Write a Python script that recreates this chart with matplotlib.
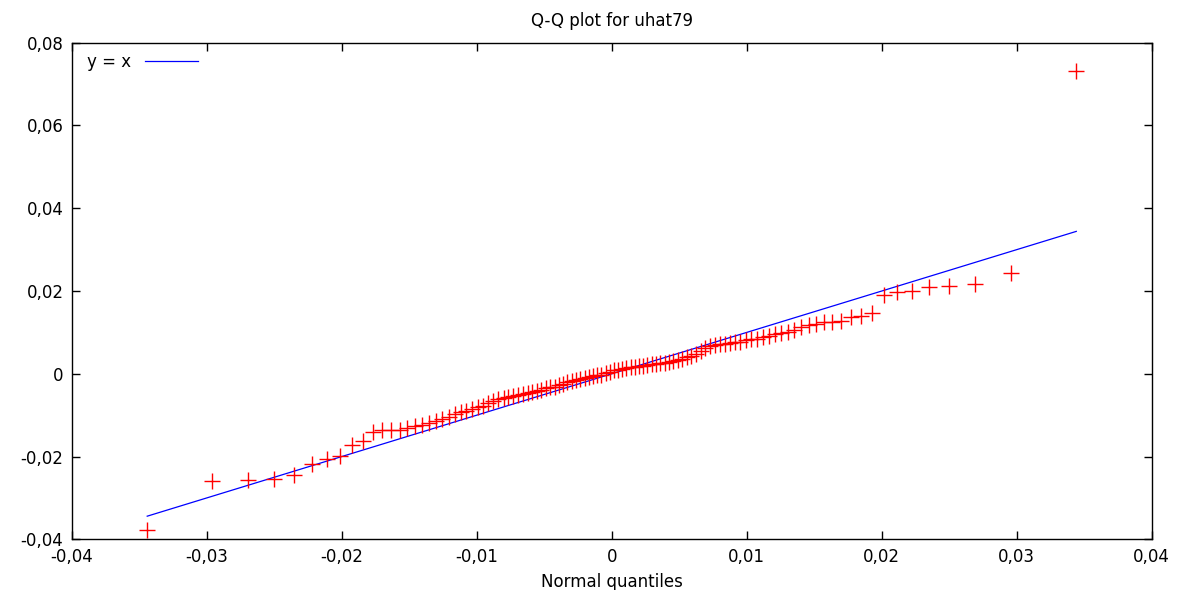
import matplotlib
matplotlib.use("Agg")
import matplotlib.pyplot as plt
from matplotlib.ticker import FuncFormatter, MultipleLocator

# Normal quantiles (x) and sorted residuals (y)
normal_q = [
    -0.03441, -0.02959, -0.02692, -0.02501, -0.02350, -0.02222, -0.02112, -0.02014, -0.01926, -0.01846,
    -0.01769, -0.01700, -0.01635, -0.01572, -0.01514, -0.01458, -0.01404, -0.01352, -0.01302, -0.01254,
    -0.01208, -0.01162, -0.01118, -0.01076, -0.01034, -0.00993, -0.00953, -0.00915, -0.00877, -0.00839,
    -0.00800, -0.00765, -0.00728, -0.00693, -0.00658, -0.00624, -0.00590, -0.00556, -0.00522, -0.00489,
    -0.00457, -0.00424, -0.00391, -0.00360, -0.00328, -0.00296, -0.00264, -0.00232, -0.00201, -0.00170,
    -0.00139, -0.00109, -0.00077, -0.00046, -0.00015,
    0.00015, 0.00046, 0.00077, 0.00109, 0.00139, 0.00170, 0.00201, 0.00232, 0.00264, 0.00296,
    0.00328, 0.00360, 0.00391, 0.00424, 0.00457, 0.00489, 0.00522, 0.00556, 0.00590, 0.00624,
    0.00658, 0.00693, 0.00728, 0.00765, 0.00800, 0.00839, 0.00877, 0.00915, 0.00953, 0.00993,
    0.01034, 0.01076, 0.01118, 0.01162, 0.01208, 0.01254, 0.01302, 0.01352, 0.01404, 0.01458,
    0.01514, 0.01572, 0.01635, 0.01700, 0.01769, 0.01846, 0.01926, 0.02014, 0.02112, 0.02222,
    0.02350, 0.02501, 0.02692, 0.02959, 0.03441,
]
uhat79 = [
    -0.0378, -0.0259, -0.0256, -0.0254, -0.0244, -0.0219, -0.0207, -0.0199, -0.0171, -0.0162,
    -0.0141, -0.0136, -0.0136, -0.0135, -0.0132, -0.0127, -0.0123, -0.0118, -0.0114, -0.0110,
    -0.0104, -0.0097, -0.0093, -0.0089, -0.0085, -0.0081, -0.0077, -0.0071, -0.0066, -0.0062,
    -0.0058, -0.0056, -0.0054, -0.0052, -0.0050, -0.0047, -0.0043, -0.0041, -0.0038, -0.0035,
    -0.0032, -0.0031, -0.0028, -0.0024, -0.0019, -0.0017, -0.0015, -0.0013, -0.0010, -0.0008,
    -0.0006, -0.0004, -0.0002, 0.0001, 0.0005,
    0.0008, 0.0010, 0.0012, 0.0014, 0.0016, 0.0017, 0.0018, 0.0019, 0.0021, 0.0023,
    0.0024, 0.0025, 0.0027, 0.0029, 0.0031, 0.0033, 0.0036, 0.0040, 0.0042, 0.0048,
    0.0054, 0.0062, 0.0068, 0.0070, 0.0071, 0.0072, 0.0074, 0.0076, 0.0078, 0.0081,
    0.0083, 0.0085, 0.0089, 0.0092, 0.0095, 0.0099, 0.0102, 0.0106, 0.0112, 0.0117,
    0.0121, 0.0124, 0.0126, 0.0127, 0.0138, 0.0139, 0.0148, 0.0190, 0.0198, 0.0200,
    0.0210, 0.0213, 0.0218, 0.0244, 0.0732,
]
line_x = [normal_q[0], normal_q[-1]]
line_y = [normal_q[0], normal_q[-1]]

FS = 12
plt.rcParams['font.family'] = ['DejaVu Sans']
fig = plt.figure(figsize=(11.82, 5.90), dpi=100)
ax = fig.add_axes([0.0607, 0.0859, 0.9137, 0.8417])

ax.plot(line_x, line_y, color='#0000ff', lw=0.9, label='y = x')
ax.plot(normal_q, uhat79, linestyle='none', marker='+', color='#ff0000',
        markersize=11, markeredgewidth=1.0)

ax.set_xlim(-0.04, 0.04)
ax.set_ylim(-0.04, 0.08)
ax.xaxis.set_major_locator(MultipleLocator(0.01))
ax.yaxis.set_major_locator(MultipleLocator(0.02))

def fmt(v, pos):
    if abs(v) < 1e-12:
        return '0'
    return ('%.2f' % v).replace('.', ',')

ax.xaxis.set_major_formatter(FuncFormatter(fmt))
ax.yaxis.set_major_formatter(FuncFormatter(fmt))
ax.tick_params(direction='in', length=6, width=1, top=True, right=True,
               labelsize=FS, colors='black', pad=6)
for s in ax.spines.values():
    s.set_linewidth(1.0)
    s.set_color('black')

ax.set_title('Q-Q plot for uhat79', fontsize=FS, pad=12)
ax.set_xlabel('Normal quantiles', fontsize=FS, labelpad=5)

leg = ax.legend(loc='upper left', frameon=False, markerfirst=False,
                handlelength=3.2, handletextpad=0.8, fontsize=FS,
                borderaxespad=0.2, bbox_to_anchor=(0.005, 1.0))

fig.savefig('out.png', dpi=100)
